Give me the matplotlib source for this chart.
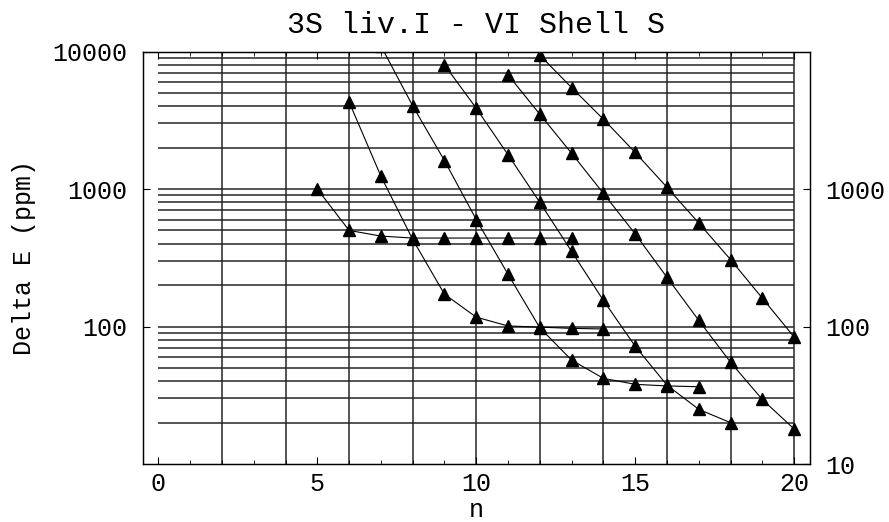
import numpy as np
import matplotlib
matplotlib.use('Agg')
import matplotlib.pyplot as plt

# Delta E (ppm) against n, one list per curve
n_a = [5, 6, 7, 8, 9, 10, 11, 12, 13]
de_a = [1000, 500, 455, 440, 440, 440, 440, 440, 440]

n_b = [6, 7, 8, 9, 10, 11, 12, 13, 14]
de_b = [4300, 1240, 430, 172, 117, 101, 99, 97, 96]

n_c = [7, 8, 9, 10, 11, 12, 13, 14, 15, 16, 17]
de_c = [11000, 4030, 1610, 600, 240, 98, 57, 42, 38, 37, 36.5]

n_d = [9, 10, 11, 12, 13, 14, 15, 16, 17, 18]
de_d = [8000, 3870, 1775, 800, 352, 155, 72, 37.5, 25, 20]

n_e = [11, 12, 13, 14, 15, 16, 17, 18, 19, 20]
de_e = [6760, 3500, 1820, 930, 472, 228, 111, 55, 29.5, 18]

n_f = [12, 13, 14, 15, 16, 17, 18, 19, 20]
de_f = [9400, 5470, 3220, 1845, 1030, 566, 307, 161, 84]

curves = [(n_a, de_a), (n_b, de_b), (n_c, de_c),
          (n_d, de_d), (n_e, de_e), (n_f, de_f)]

title = '3S liv.I - VI Shell S'
xlabel = 'n'
ylabel = 'Delta E (ppm)'

plt.rcParams['font.family'] = ['Liberation Mono', 'DejaVu Sans Mono']
plt.rcParams['font.size'] = 18

fig = plt.figure(figsize=(8.89, 5.22), dpi=100)
ax = fig.add_axes([0.1603, 0.111, 0.7508, 0.7903])

ax.set_yscale('log')
ax.set_xlim(-0.5, 20.5)
ax.set_ylim(10, 10000)

# grid: horizontal lines only across the data range 0..20
hgrid = [m * 10 ** k for k in range(1, 4) for m in range(1, 10)][1:]
ax.hlines(hgrid, 0, 20, color='0.15', lw=1.1, zorder=1)
ax.vlines(np.arange(2, 21, 2), 10, 10000, color='0.15', lw=1.1, zorder=1)

for n, de in curves:
    ax.plot(n, de, color='black', lw=0.8, marker='^', ms=8.5,
            markerfacecolor='black', markeredgecolor='black', zorder=3)

# x ticks
ax.set_xticks([0, 5, 10, 15, 20])
ax.set_xticks(np.arange(0, 21), minor=True)
ax.tick_params(axis='x', which='major', direction='in', length=5,
               width=0.8, top=True, pad=6)
ax.tick_params(axis='x', which='minor', direction='in', length=3,
               width=0.6, top=True)

# y ticks: left shows 10000..100, right shows 1000..10
ax.set_yticks([100, 1000, 10000])
ax.set_yticklabels(['100', '1000', '10000'])
ax.yaxis.set_minor_locator(matplotlib.ticker.NullLocator())
ax.tick_params(axis='y', which='major', direction='in', length=5,
               width=0.8, pad=11)

ax2 = ax.twinx()
ax2.set_yscale('log')
ax2.set_ylim(10, 10000)
ax2.set_yticks([10, 100, 1000])
ax2.set_yticklabels(['10', '100', '1000'])
ax2.yaxis.set_minor_locator(matplotlib.ticker.NullLocator())
ax2.tick_params(axis='y', which='major', direction='in', length=5,
                width=0.8, pad=11)

for a in (ax, ax2):
    for s in a.spines.values():
        s.set_linewidth(0.9)

ax.set_title(title, pad=13)
ax.set_xlabel(xlabel, labelpad=1.5)
ax.set_ylabel(ylabel, labelpad=12)

fig.savefig('out.png', dpi=100)
